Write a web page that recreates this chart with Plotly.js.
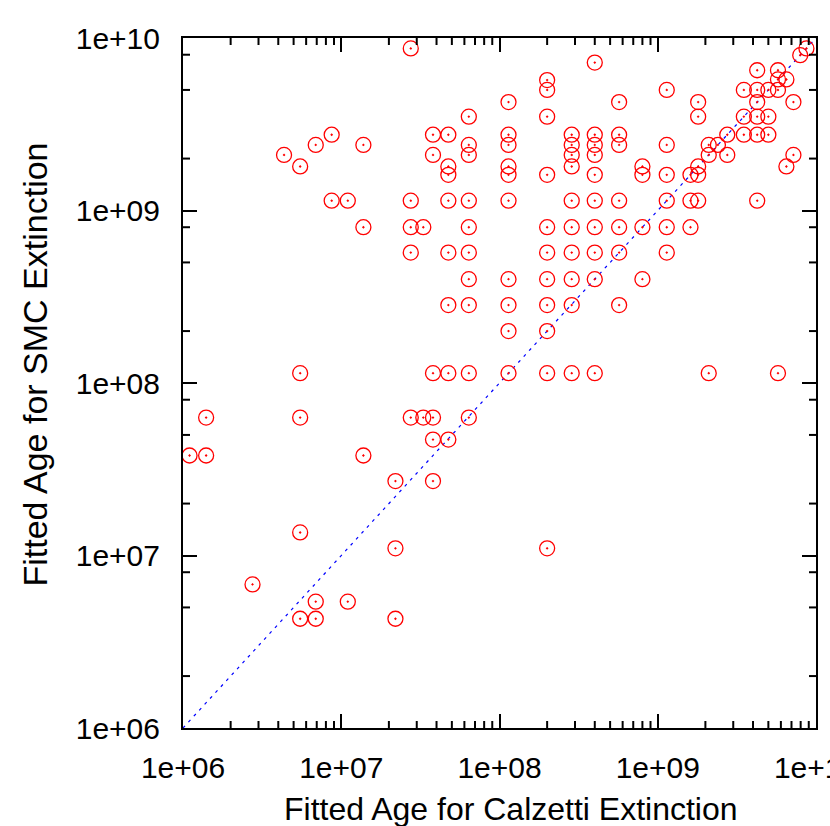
<!DOCTYPE html>
<html>
<head>
<meta charset="utf-8">
<script src="https://cdn.plot.ly/plotly-3.0.1.min.js"></script>
<style>
  body { margin: 0; background: #fff; }
  #plot { width: 830px; height: 826px; }
</style>
</head>
<body>
<div id="plot"></div>
<script>
// fitted ages, one entry per galaxy (Calzetti vs SMC)
var calzettiAge = [
  1.1e6,
  1.4e6, 1.4e6,
  2.75e6,
  4.35e6,
  5.5e6, 5.5e6, 5.5e6, 5.5e6, 5.5e6,
  6.9e6, 6.9e6, 6.9e6,
  8.7e6, 8.7e6,
  1.1e7, 1.1e7,
  1.38e7, 1.38e7, 1.38e7,
  2.2e7, 2.2e7, 2.2e7,
  2.75e7, 2.75e7, 2.75e7, 2.75e7, 2.75e7,
  3.3e7, 3.3e7,
  3.8e7, 3.8e7, 3.8e7, 3.8e7, 3.8e7, 3.8e7,
  4.75e7, 4.75e7, 4.75e7, 4.75e7, 4.75e7, 4.75e7, 4.75e7, 4.75e7,
  6.4e7, 6.4e7, 6.4e7, 6.4e7, 6.4e7, 6.4e7, 6.4e7, 6.4e7, 6.4e7, 6.4e7,
  1.14e8, 1.14e8, 1.14e8, 1.14e8, 1.14e8, 1.14e8, 1.14e8, 1.14e8, 1.14e8, 1.14e8,
  2.0e8, 2.0e8, 2.0e8, 2.0e8, 2.0e8, 2.0e8, 2.0e8, 2.0e8, 2.0e8, 2.0e8, 2.0e8,
  2.86e8, 2.86e8, 2.86e8, 2.86e8, 2.86e8, 2.86e8, 2.86e8, 2.86e8, 2.86e8, 2.86e8,
  4.0e8, 4.0e8, 4.0e8, 4.0e8, 4.0e8, 4.0e8, 4.0e8, 4.0e8, 4.0e8, 4.0e8,
  5.7e8, 5.7e8, 5.7e8, 5.7e8, 5.7e8, 5.7e8, 5.7e8,
  8.0e8, 8.0e8, 8.0e8, 8.0e8,
  1.14e9, 1.14e9, 1.14e9, 1.14e9, 1.14e9, 1.14e9,
  1.61e9, 1.61e9, 1.61e9,
  1.8e9, 1.8e9, 1.8e9, 1.8e9, 1.8e9,
  2.1e9, 2.1e9, 2.1e9,
  2.4e9,
  2.75e9, 2.75e9,
  3.5e9, 3.5e9, 3.5e9,
  4.25e9, 4.25e9, 4.25e9, 4.25e9, 4.25e9, 4.25e9,
  5.0e9, 5.0e9, 5.0e9,
  5.75e9, 5.75e9, 5.75e9, 5.75e9,
  6.5e9, 6.5e9,
  7.2e9, 7.2e9,
  7.95e9,
  8.7e9
]
var smcAge = [
  3.8e7,
  6.3e7, 3.8e7,
  6.8e6,
  2.1e9,
  1.8e9, 1.14e8, 6.3e7, 1.36e7, 4.3e6,
  2.4e9, 5.4e6, 4.3e6,
  2.75e9, 1.14e9,
  1.14e9, 5.4e6,
  2.4e9, 8.0e8, 3.8e7,
  2.7e7, 1.1e7, 4.3e6,
  8.7e9, 1.14e9, 8.0e8, 5.7e8, 6.3e7,
  8.0e8, 6.3e7,
  2.75e9, 2.1e9, 1.14e8, 6.3e7, 4.7e7, 2.7e7,
  2.75e9, 1.8e9, 1.61e9, 1.14e9, 5.7e8, 2.83e8, 1.14e8, 4.7e7,
  3.5e9, 2.4e9, 2.1e9, 1.14e9, 8.0e8, 5.7e8, 4.0e8, 2.83e8, 1.14e8, 6.3e7,
  4.25e9, 2.75e9, 2.4e9, 1.8e9, 1.61e9, 1.14e9, 4.0e8, 2.83e8, 2.0e8, 1.14e8,
  5.7e9, 5.0e9, 3.5e9, 1.61e9, 8.0e8, 5.7e8, 4.0e8, 2.83e8, 2.0e8, 1.14e8, 1.1e7,
  2.75e9, 2.4e9, 2.1e9, 1.8e9, 1.14e9, 8.0e8, 5.7e8, 4.0e8, 2.83e8, 1.14e8,
  7.2e9, 2.75e9, 2.4e9, 2.1e9, 1.61e9, 1.14e9, 8.0e8, 5.7e8, 4.0e8, 1.14e8,
  4.25e9, 2.75e9, 2.4e9, 1.14e9, 8.0e8, 5.7e8, 2.83e8,
  1.8e9, 1.61e9, 8.0e8, 4.0e8,
  5.0e9, 2.4e9, 1.61e9, 1.14e9, 8.0e8, 5.7e8,
  1.61e9, 1.14e9, 8.0e8,
  4.25e9, 3.5e9, 1.8e9, 1.61e9, 1.14e9,
  2.4e9, 2.1e9, 1.14e8,
  2.4e9,
  2.75e9, 2.1e9,
  5.0e9, 3.5e9, 2.75e9,
  6.5e9, 5.0e9, 4.25e9, 3.5e9, 2.75e9, 1.14e9,
  5.0e9, 3.5e9, 2.75e9,
  6.5e9, 5.75e9, 5.0e9, 1.14e8,
  5.75e9, 1.8e9,
  4.25e9, 2.1e9,
  7.95e9,
  8.7e9
]

// y = x reference line
var diagX = [1e6, 1e10]
var diagY = [1e6, 1e10]

var decades = [1e6, 1e7, 1e8, 1e9, 1e10]
var decadeLabels = ['1e+06', '1e+07', '1e+08', '1e+09', '1e+10']

// minor tick multipliers (gnuplot style: x gets 2..9, y only 2,5,8)
var xMinorMult = [2, 3, 4, 5, 6, 7, 8, 9]
var yMinorMult = [2, 5, 8]
function minorVals(mult){
	var out = []
	decades.slice(0, 4).forEach(function(d){
		mult.forEach(function(m){ out.push(d * m) })
	})
	return out
}

var points = {
	x: calzettiAge,
	y: smcAge,
	mode: 'markers',
	type: 'scatter',
	cliponaxis: false,
	marker: {symbol: 'circle-open-dot', size: 15, color: '#ff0000', line: {width: 1.3, color: '#ff0000'}},
	showlegend: false,
	hoverinfo: 'x+y'
}

var diag = {
	x: diagX,
	y: diagY,
	mode: 'lines',
	type: 'scatter',
	line: {color: '#0000ff', width: 1.2, dash: '3px,5px'},
	showlegend: false,
	hoverinfo: 'skip'
}

var fontFam = '"Liberation Sans", Arial, sans-serif'
var minorLen = 7

// minor ticks as short pixel-sized shapes on all four sides
var shapes = []
var tickLine = {color: '#000', width: 2}
minorVals(xMinorMult).forEach(function(v){
	shapes.push({type: 'line', xref: 'x', yref: 'paper', x0: v, x1: v,
		ysizemode: 'pixel', yanchor: 0, y0: 0, y1: minorLen, line: tickLine, layer: 'above'})
	shapes.push({type: 'line', xref: 'x', yref: 'paper', x0: v, x1: v,
		ysizemode: 'pixel', yanchor: 1, y0: 0, y1: -minorLen, line: tickLine, layer: 'above'})
})
minorVals(yMinorMult).forEach(function(v){
	shapes.push({type: 'line', yref: 'y', xref: 'paper', y0: v, y1: v,
		xsizemode: 'pixel', xanchor: 0, x0: 0, x1: minorLen, line: tickLine, layer: 'above'})
	shapes.push({type: 'line', yref: 'y', xref: 'paper', y0: v, y1: v,
		xsizemode: 'pixel', xanchor: 1, x0: 0, x1: -minorLen, line: tickLine, layer: 'above'})
})

function majorAxis(){
	return {
		type: 'log',
		range: [6, 10],
		tickmode: 'array',
		tickvals: decades,
		ticktext: decadeLabels,
		ticks: 'inside',
		ticklen: 14,
		tickwidth: 2,
		tickcolor: '#000',
		showline: true,
		linewidth: 2,
		linecolor: '#000',
		mirror: 'allticks',
		showgrid: false,
		zeroline: false,
		ticklabeloverflow: 'allow',
		tickfont: {family: fontFam, size: 30, color: '#000'}
	}
}

var xaxis = majorAxis()
xaxis.ticklabelstandoff = 12

var yaxis = majorAxis()
yaxis.ticklabelstandoff = 15

var annotations = [
	{
		text: 'Fitted Age for Calzetti Extinction',
		xref: 'paper', yref: 'paper',
		x: 0.518, y: -0.117,
		xanchor: 'center', yanchor: 'middle',
		showarrow: false,
		font: {family: fontFam, size: 32, color: '#000'}
	},
	{
		text: 'Fitted Age for SMC Extinction',
		xref: 'paper', yref: 'paper',
		x: -0.233, y: 0.526,
		xanchor: 'center', yanchor: 'middle',
		textangle: -90,
		showarrow: false,
		font: {family: fontFam, size: 34, color: '#000'}
	}
]

var layout = {
	width: 830,
	height: 826,
	margin: {l: 183, r: 14, t: 38, b: 98, pad: 0},
	paper_bgcolor: '#fff',
	plot_bgcolor: '#fff',
	xaxis: xaxis,
	yaxis: yaxis,
	shapes: shapes,
	annotations: annotations,
	showlegend: false
}

Plotly.newPlot('plot', [diag, points], layout, {displayModeBar: false, staticPlot: true})
</script>
</body>
</html>
